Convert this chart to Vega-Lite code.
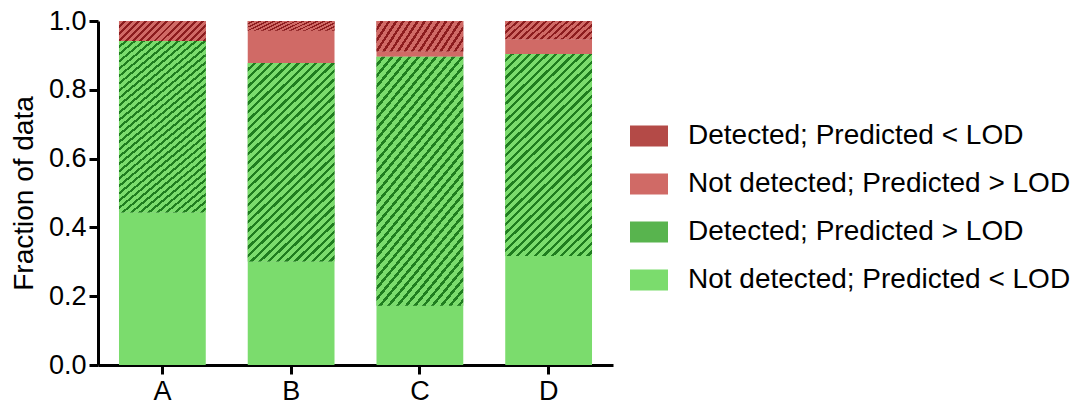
{
  "$schema": "https://vega.github.io/schema/vega-lite/v6.json",
  "width": 515,
  "height": 344,
  "autosize": {"type": "none"},
  "padding": {"left": 98, "top": 21, "right": 457, "bottom": 40},
  "background": "white",
  "config": {
    "view": {"stroke": null},
    "font": "Liberation Sans",
    "axis": {"grid": false, "domainColor": "black", "domainWidth": 3, "tickColor": "black", "tickWidth": 3, "tickSize": 9, "labelColor": "black", "labelFont": "Liberation Sans", "labelFontSize": 27, "titleFont": "Liberation Sans", "titleFontSize": 28, "titleFontWeight": "normal", "titleColor": "black"},
    "legend": {"labelFont": "Liberation Sans", "labelFontSize": 28, "labelColor": "black"}
  },
  "data": {"values": [
    {"group": "A", "status": "Not detected; Predicted < LOD", "fraction": 0.443},
    {"group": "A", "status": "Detected; Predicted > LOD", "fraction": 0.499},
    {"group": "A", "status": "Not detected; Predicted > LOD", "fraction": 0.0},
    {"group": "A", "status": "Detected; Predicted < LOD", "fraction": 0.058},
    {"group": "B", "status": "Not detected; Predicted < LOD", "fraction": 0.301},
    {"group": "B", "status": "Detected; Predicted > LOD", "fraction": 0.577},
    {"group": "B", "status": "Not detected; Predicted > LOD", "fraction": 0.094},
    {"group": "B", "status": "Detected; Predicted < LOD", "fraction": 0.028},
    {"group": "C", "status": "Not detected; Predicted < LOD", "fraction": 0.172},
    {"group": "C", "status": "Detected; Predicted > LOD", "fraction": 0.724},
    {"group": "C", "status": "Not detected; Predicted > LOD", "fraction": 0.015},
    {"group": "C", "status": "Detected; Predicted < LOD", "fraction": 0.089},
    {"group": "D", "status": "Not detected; Predicted < LOD", "fraction": 0.317},
    {"group": "D", "status": "Detected; Predicted > LOD", "fraction": 0.587},
    {"group": "D", "status": "Not detected; Predicted > LOD", "fraction": 0.043},
    {"group": "D", "status": "Detected; Predicted < LOD", "fraction": 0.053}
  ]},
  "transform": [
    {"stack": "fraction", "groupby": ["group"], "sort": [], "as": ["y0", "y1"]}
  ],
  "encoding": {
    "x": {"field": "group", "type": "nominal", "title": null,
      "scale": {"paddingInner": 0.326, "paddingOuter": 0.163},
      "axis": {"labelAngle": 0, "labelPadding": 4}},
    "y": {"field": "y1", "type": "quantitative", "title": "Fraction of data",
      "scale": {"domain": [0, 1], "nice": false},
      "axis": {"values": [0, 0.2, 0.4, 0.6, 0.8, 1.0], "format": ".1f", "labelPadding": 3, "titlePadding": 10}},
    "y2": {"field": "y0"}
  },
  "layer": [
    {
      "mark": {"type": "bar", "strokeWidth": 0},
      "encoding": {
        "fill": {
          "field": "status", "type": "nominal",
          "scale": {"domain": ["Not detected; Predicted < LOD", "Detected; Predicted > LOD", "Not detected; Predicted > LOD", "Detected; Predicted < LOD"],
                    "range": ["#7bdc6d", "#58b44e", "#d06a66", "#b44a47"]},
          "legend": {
            "title": null, "orient": "none", "legendX": 532, "legendY": 96, "padding": 0,
            "values": ["Detected; Predicted < LOD", "Not detected; Predicted > LOD", "Detected; Predicted > LOD", "Not detected; Predicted < LOD"],
            "symbolType": "M-1,-0.55H1V0.55H-1Z", "symbolSize": 1444, "symbolStrokeWidth": 0, "symbolOpacity": 1,
            "labelOffset": 20, "rowPadding": 15, "labelFontSize": 28, "labelLimit": 500
          }
        }
      }
    },
    {
      "transform": [{"filter": "datum.status === 'Detected; Predicted > LOD'"}],
      "mark": {"type": "bar", "strokeWidth": 0, "fill": {"gradient": "linear", "x1": 0, "y1": 0, "x2": 0.51, "y2": 1.207, "stops": [
          {"offset": 0, "color": "#7bdc6d"}, {"offset": 0.0186, "color": "#7bdc6d"}, {"offset": 0.0186, "color": "#1f7d1f"}, {"offset": 0.03, "color": "#1f7d1f"},
          {"offset": 0.03, "color": "#7bdc6d"}, {"offset": 0.0486, "color": "#7bdc6d"}, {"offset": 0.0486, "color": "#1f7d1f"}, {"offset": 0.06, "color": "#1f7d1f"},
          {"offset": 0.06, "color": "#7bdc6d"}, {"offset": 0.0786, "color": "#7bdc6d"}, {"offset": 0.0786, "color": "#1f7d1f"}, {"offset": 0.09, "color": "#1f7d1f"},
          {"offset": 0.09, "color": "#7bdc6d"}, {"offset": 0.1086, "color": "#7bdc6d"}, {"offset": 0.1086, "color": "#1f7d1f"}, {"offset": 0.12, "color": "#1f7d1f"},
          {"offset": 0.12, "color": "#7bdc6d"}, {"offset": 0.1386, "color": "#7bdc6d"}, {"offset": 0.1386, "color": "#1f7d1f"}, {"offset": 0.15, "color": "#1f7d1f"},
          {"offset": 0.15, "color": "#7bdc6d"}, {"offset": 0.1686, "color": "#7bdc6d"}, {"offset": 0.1686, "color": "#1f7d1f"}, {"offset": 0.18, "color": "#1f7d1f"},
          {"offset": 0.18, "color": "#7bdc6d"}, {"offset": 0.1986, "color": "#7bdc6d"}, {"offset": 0.1986, "color": "#1f7d1f"}, {"offset": 0.21, "color": "#1f7d1f"},
          {"offset": 0.21, "color": "#7bdc6d"}, {"offset": 0.2286, "color": "#7bdc6d"}, {"offset": 0.2286, "color": "#1f7d1f"}, {"offset": 0.24, "color": "#1f7d1f"},
          {"offset": 0.24, "color": "#7bdc6d"}, {"offset": 0.2586, "color": "#7bdc6d"}, {"offset": 0.2586, "color": "#1f7d1f"}, {"offset": 0.27, "color": "#1f7d1f"},
          {"offset": 0.27, "color": "#7bdc6d"}, {"offset": 0.2886, "color": "#7bdc6d"}, {"offset": 0.2886, "color": "#1f7d1f"}, {"offset": 0.3, "color": "#1f7d1f"},
          {"offset": 0.3, "color": "#7bdc6d"}, {"offset": 0.3186, "color": "#7bdc6d"}, {"offset": 0.3186, "color": "#1f7d1f"}, {"offset": 0.33, "color": "#1f7d1f"},
          {"offset": 0.33, "color": "#7bdc6d"}, {"offset": 0.3486, "color": "#7bdc6d"}, {"offset": 0.3486, "color": "#1f7d1f"}, {"offset": 0.36, "color": "#1f7d1f"},
          {"offset": 0.36, "color": "#7bdc6d"}, {"offset": 0.3786, "color": "#7bdc6d"}, {"offset": 0.3786, "color": "#1f7d1f"}, {"offset": 0.39, "color": "#1f7d1f"},
          {"offset": 0.39, "color": "#7bdc6d"}, {"offset": 0.4086, "color": "#7bdc6d"}, {"offset": 0.4086, "color": "#1f7d1f"}, {"offset": 0.42, "color": "#1f7d1f"},
          {"offset": 0.42, "color": "#7bdc6d"}, {"offset": 0.4386, "color": "#7bdc6d"}, {"offset": 0.4386, "color": "#1f7d1f"}, {"offset": 0.45, "color": "#1f7d1f"},
          {"offset": 0.45, "color": "#7bdc6d"}, {"offset": 0.4686, "color": "#7bdc6d"}, {"offset": 0.4686, "color": "#1f7d1f"}, {"offset": 0.48, "color": "#1f7d1f"},
          {"offset": 0.48, "color": "#7bdc6d"}, {"offset": 0.4986, "color": "#7bdc6d"}, {"offset": 0.4986, "color": "#1f7d1f"}, {"offset": 0.51, "color": "#1f7d1f"},
          {"offset": 0.51, "color": "#7bdc6d"}, {"offset": 0.5286, "color": "#7bdc6d"}, {"offset": 0.5286, "color": "#1f7d1f"}, {"offset": 0.54, "color": "#1f7d1f"},
          {"offset": 0.54, "color": "#7bdc6d"}, {"offset": 0.5586, "color": "#7bdc6d"}, {"offset": 0.5586, "color": "#1f7d1f"}, {"offset": 0.57, "color": "#1f7d1f"},
          {"offset": 0.57, "color": "#7bdc6d"}, {"offset": 0.5886, "color": "#7bdc6d"}, {"offset": 0.5886, "color": "#1f7d1f"}, {"offset": 0.6, "color": "#1f7d1f"},
          {"offset": 0.6, "color": "#7bdc6d"}, {"offset": 0.6186, "color": "#7bdc6d"}, {"offset": 0.6186, "color": "#1f7d1f"}, {"offset": 0.63, "color": "#1f7d1f"},
          {"offset": 0.63, "color": "#7bdc6d"}, {"offset": 0.6486, "color": "#7bdc6d"}, {"offset": 0.6486, "color": "#1f7d1f"}, {"offset": 0.66, "color": "#1f7d1f"},
          {"offset": 0.66, "color": "#7bdc6d"}, {"offset": 0.6786, "color": "#7bdc6d"}, {"offset": 0.6786, "color": "#1f7d1f"}, {"offset": 0.69, "color": "#1f7d1f"},
          {"offset": 0.69, "color": "#7bdc6d"}, {"offset": 0.7086, "color": "#7bdc6d"}, {"offset": 0.7086, "color": "#1f7d1f"}, {"offset": 0.72, "color": "#1f7d1f"},
          {"offset": 0.72, "color": "#7bdc6d"}, {"offset": 0.7386, "color": "#7bdc6d"}, {"offset": 0.7386, "color": "#1f7d1f"}, {"offset": 0.75, "color": "#1f7d1f"},
          {"offset": 0.75, "color": "#7bdc6d"}, {"offset": 0.7686, "color": "#7bdc6d"}, {"offset": 0.7686, "color": "#1f7d1f"}, {"offset": 0.78, "color": "#1f7d1f"},
          {"offset": 0.78, "color": "#7bdc6d"}, {"offset": 0.7986, "color": "#7bdc6d"}, {"offset": 0.7986, "color": "#1f7d1f"}, {"offset": 0.81, "color": "#1f7d1f"},
          {"offset": 0.81, "color": "#7bdc6d"}, {"offset": 0.8286, "color": "#7bdc6d"}, {"offset": 0.8286, "color": "#1f7d1f"}, {"offset": 0.84, "color": "#1f7d1f"},
          {"offset": 0.84, "color": "#7bdc6d"}, {"offset": 0.8586, "color": "#7bdc6d"}, {"offset": 0.8586, "color": "#1f7d1f"}, {"offset": 0.87, "color": "#1f7d1f"},
          {"offset": 0.87, "color": "#7bdc6d"}, {"offset": 0.8886, "color": "#7bdc6d"}, {"offset": 0.8886, "color": "#1f7d1f"}, {"offset": 0.9, "color": "#1f7d1f"},
          {"offset": 0.9, "color": "#7bdc6d"}, {"offset": 0.9186, "color": "#7bdc6d"}, {"offset": 0.9186, "color": "#1f7d1f"}, {"offset": 0.93, "color": "#1f7d1f"},
          {"offset": 0.93, "color": "#7bdc6d"}, {"offset": 0.9486, "color": "#7bdc6d"}, {"offset": 0.9486, "color": "#1f7d1f"}, {"offset": 0.96, "color": "#1f7d1f"},
          {"offset": 0.96, "color": "#7bdc6d"}, {"offset": 0.9786, "color": "#7bdc6d"}, {"offset": 0.9786, "color": "#1f7d1f"}, {"offset": 0.99, "color": "#1f7d1f"},
          {"offset": 0.99, "color": "#7bdc6d"}, {"offset": 1, "color": "#7bdc6d"}
        ]}}
    },
    {
      "transform": [{"filter": "datum.status === 'Detected; Predicted < LOD'"}],
      "mark": {"type": "bar", "strokeWidth": 0, "fill": {"gradient": "linear", "x1": 0, "y1": 0, "x2": 1.168, "y2": 0.269, "stops": [
          {"offset": 0, "color": "#d06a66"}, {"offset": 0.04, "color": "#d06a66"}, {"offset": 0.04, "color": "#8c1c1e"}, {"offset": 0.0667, "color": "#8c1c1e"},
          {"offset": 0.0667, "color": "#d06a66"}, {"offset": 0.1067, "color": "#d06a66"}, {"offset": 0.1067, "color": "#8c1c1e"}, {"offset": 0.1333, "color": "#8c1c1e"},
          {"offset": 0.1333, "color": "#d06a66"}, {"offset": 0.1733, "color": "#d06a66"}, {"offset": 0.1733, "color": "#8c1c1e"}, {"offset": 0.2, "color": "#8c1c1e"},
          {"offset": 0.2, "color": "#d06a66"}, {"offset": 0.24, "color": "#d06a66"}, {"offset": 0.24, "color": "#8c1c1e"}, {"offset": 0.2667, "color": "#8c1c1e"},
          {"offset": 0.2667, "color": "#d06a66"}, {"offset": 0.3067, "color": "#d06a66"}, {"offset": 0.3067, "color": "#8c1c1e"}, {"offset": 0.3333, "color": "#8c1c1e"},
          {"offset": 0.3333, "color": "#d06a66"}, {"offset": 0.3733, "color": "#d06a66"}, {"offset": 0.3733, "color": "#8c1c1e"}, {"offset": 0.4, "color": "#8c1c1e"},
          {"offset": 0.4, "color": "#d06a66"}, {"offset": 0.44, "color": "#d06a66"}, {"offset": 0.44, "color": "#8c1c1e"}, {"offset": 0.4667, "color": "#8c1c1e"},
          {"offset": 0.4667, "color": "#d06a66"}, {"offset": 0.5067, "color": "#d06a66"}, {"offset": 0.5067, "color": "#8c1c1e"}, {"offset": 0.5333, "color": "#8c1c1e"},
          {"offset": 0.5333, "color": "#d06a66"}, {"offset": 0.5733, "color": "#d06a66"}, {"offset": 0.5733, "color": "#8c1c1e"}, {"offset": 0.6, "color": "#8c1c1e"},
          {"offset": 0.6, "color": "#d06a66"}, {"offset": 0.64, "color": "#d06a66"}, {"offset": 0.64, "color": "#8c1c1e"}, {"offset": 0.6667, "color": "#8c1c1e"},
          {"offset": 0.6667, "color": "#d06a66"}, {"offset": 0.7067, "color": "#d06a66"}, {"offset": 0.7067, "color": "#8c1c1e"}, {"offset": 0.7333, "color": "#8c1c1e"},
          {"offset": 0.7333, "color": "#d06a66"}, {"offset": 0.7733, "color": "#d06a66"}, {"offset": 0.7733, "color": "#8c1c1e"}, {"offset": 0.8, "color": "#8c1c1e"},
          {"offset": 0.8, "color": "#d06a66"}, {"offset": 0.84, "color": "#d06a66"}, {"offset": 0.84, "color": "#8c1c1e"}, {"offset": 0.8667, "color": "#8c1c1e"},
          {"offset": 0.8667, "color": "#d06a66"}, {"offset": 0.9067, "color": "#d06a66"}, {"offset": 0.9067, "color": "#8c1c1e"}, {"offset": 0.9333, "color": "#8c1c1e"},
          {"offset": 0.9333, "color": "#d06a66"}, {"offset": 0.9733, "color": "#d06a66"}, {"offset": 0.9733, "color": "#8c1c1e"}, {"offset": 1, "color": "#8c1c1e"}
        ]}}
    }
  ]
}
